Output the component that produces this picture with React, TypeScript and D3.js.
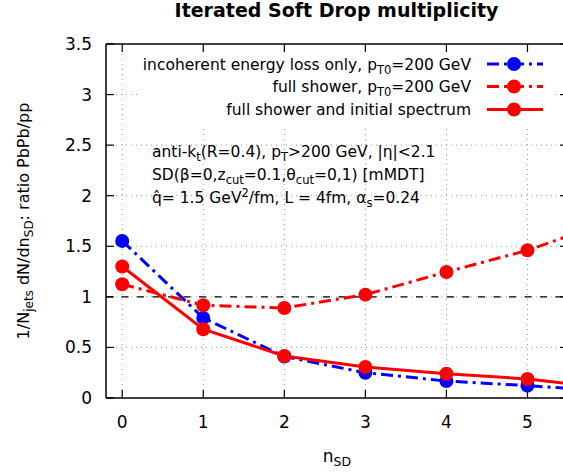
import React from "react";
import * as d3 from "d3";

const nSD = [0, 1, 2, 3, 4, 5, 6];
const incoherent = [1.553, 0.792, 0.41, 0.25, 0.168, 0.122, 0.07];
const fullShower = [1.125, 0.917, 0.89, 1.022, 1.246, 1.46, 1.74];
const fullShowerSpectrum = [1.3, 0.68, 0.415, 0.306, 0.24, 0.188, 0.095];
const xTicks = [0, 1, 2, 3, 4, 5];
const yTicks = [0, 0.5, 1, 1.5, 2, 2.5, 3, 3.5];

const W = 563;
const H = 475;
const L = 106, R = 568, T = 44, B = 398;
const FONT = "'DejaVu Sans', sans-serif";
const FS = 15.5;
const TFS = 17;
const SUB = 11.5;

const x = d3.scaleLinear().domain([-0.2, 5.5]).range([L, R]);
const y = d3.scaleLinear().domain([0, 3.5]).range([B, T]);

const series = [
  { values: incoherent, color: "#0000ff", dash: "12,5,3,5" },
  { values: fullShower, color: "#ff0000", dash: "12,5,3,5" },
  { values: fullShowerSpectrum, color: "#ff0000", dash: null as string | null },
];

const line = d3
  .line<number>()
  .x((_, i) => x(nSD[i]))
  .y((d) => y(d));

export default function App() {
  const legendY = [69.5, 92, 115];
  return (
    <svg
      width={W}
      height={H}
      style={{ position: "absolute", left: 0, top: 0, background: "#fff" }}
      fontFamily={FONT}
      fontSize={FS}
    >
      <defs>
        <clipPath id="plot">
          <rect x={L} y={T} width={R - L} height={B - T} />
        </clipPath>
      </defs>
      <rect x={0} y={0} width={W} height={H} fill="#fff" />
      {/* grid */}
      {xTicks.map((t) => (
        <line key={"gx" + t} x1={x(t)} x2={x(t)} y1={T} y2={B} stroke="#999" strokeWidth={1} strokeDasharray="1,4" />
      ))}
      {yTicks.filter((t) => t !== 0 && t !== 3.5).map((t) => (
        <line key={"gy" + t} x1={L} x2={R} y1={y(t)} y2={y(t)} stroke="#999" strokeWidth={1} strokeDasharray="1,4" />
      ))}
      <line x1={L} x2={R} y1={y(1)} y2={y(1)} stroke="#000" strokeWidth={1.2} strokeDasharray="7,8.5" />
      {/* legend background */}
      <rect x={138} y={50} width={418} height={75} fill="#fff" />
      {/* frame */}
      <line x1={L} x2={L} y1={T} y2={B} stroke="#000" strokeWidth={1.5} />
      <line x1={L} x2={R} y1={B} y2={B} stroke="#000" strokeWidth={1.5} />
      <line x1={L} x2={R} y1={T} y2={T} stroke="#000" strokeWidth={1.5} />
      <line x1={R} x2={R} y1={T} y2={B} stroke="#000" strokeWidth={1.5} />
      {yTicks.map((t) => (
        <g key={"ty" + t}>
          <line x1={L} x2={L + 8} y1={y(t)} y2={y(t)} stroke="#000" strokeWidth={1.2} />
          <line x1={R} x2={R - 8} y1={y(t)} y2={y(t)} stroke="#000" strokeWidth={1.2} />
          <text x={92} y={y(t) + 6} textAnchor="end" fontSize={TFS}>{d3.format("~g")(t)}</text>
        </g>
      ))}
      {xTicks.map((t) => (
        <g key={"tx" + t}>
          <line x1={x(t)} x2={x(t)} y1={B} y2={B - 8} stroke="#000" strokeWidth={1.2} />
          <line x1={x(t)} x2={x(t)} y1={T} y2={T + 8} stroke="#000" strokeWidth={1.2} />
          <text x={x(t)} y={428} textAnchor="middle" fontSize={TFS}>{t}</text>
        </g>
      ))}
      {/* series */}
      <g clipPath="url(#plot)">
        {series.map((s, si) => (
          <g key={"s" + si}>
            <path
              d={line(s.values) || ""}
              fill="none"
              stroke={s.color}
              strokeWidth={3}
              strokeDasharray={s.dash || undefined}
            />
            {s.values.map((v, i) => (
              <circle key={i} cx={x(nSD[i])} cy={y(v)} r={7} fill={s.color} />
            ))}
          </g>
        ))}
      </g>
      {/* legend */}
      <g>
        <text x={471} y={legendY[0]} textAnchor="end">
          incoherent energy loss only, p<tspan dy={4} fontSize={SUB}>T0</tspan>
          <tspan dy={-4}>=200 GeV</tspan>
        </text>
        <text x={471} y={legendY[1]} textAnchor="end">
          full shower, p<tspan dy={4} fontSize={SUB}>T0</tspan>
          <tspan dy={-4}>=200 GeV</tspan>
        </text>
        <text x={471} y={legendY[2]} textAnchor="end">full shower and initial spectrum</text>
        {series.map((s, si) => (
          <g key={"l" + si}>
            <line
              x1={487}
              x2={543}
              y1={legendY[si] - 5.5}
              y2={legendY[si] - 5.5}
              stroke={s.color}
              strokeWidth={3}
              strokeDasharray={s.dash || undefined}
            />
            <circle cx={514} cy={legendY[si] - 5.5} r={7} fill={s.color} />
          </g>
        ))}
      </g>
      {/* annotations */}
      <text x={152} y={157}>
        anti-k<tspan dy={4} fontSize={SUB}>t</tspan>
        <tspan dy={-4}>(R=0.4), p</tspan>
        <tspan dy={4} fontSize={SUB}>T</tspan>
        <tspan dy={-4}>&gt;200 GeV, |η|&lt;2.1</tspan>
      </text>
      <text x={152} y={180}>
        SD(β=0,z<tspan dy={4} fontSize={SUB}>cut</tspan>
        <tspan dy={-4}>=0.1,θ</tspan>
        <tspan dy={4} fontSize={SUB}>cut</tspan>
        <tspan dy={-4}>=0,1) [mMDT]</tspan>
      </text>
      <text x={152} y={203}>
        q̂= 1.5 GeV<tspan dy={-6} fontSize={SUB}>2</tspan>
        <tspan dy={6}>/fm, L = 4fm, α</tspan>
        <tspan dy={4} fontSize={SUB}>s</tspan>
        <tspan dy={-4}>=0.24</tspan>
      </text>
      {/* axis labels */}
      <text transform={`translate(29,${(T + B) / 2}) rotate(-90)`} textAnchor="middle" fontSize={16}>
        1/N<tspan dy={4} fontSize={12}>jets</tspan>
        <tspan dy={-4}> dN/dn</tspan>
        <tspan dy={4} fontSize={12}>SD</tspan>
        <tspan dy={-4}>: ratio PbPb/pp</tspan>
      </text>
      <text x={337} y={462} textAnchor="middle" fontSize={17}>
        n<tspan dy={4} fontSize={12.5}>SD</tspan>
      </text>
      <text x={336.5} y={17} textAnchor="middle" fontWeight="bold" fontSize={19}>
        Iterated Soft Drop multiplicity
      </text>
    </svg>
  );
}
